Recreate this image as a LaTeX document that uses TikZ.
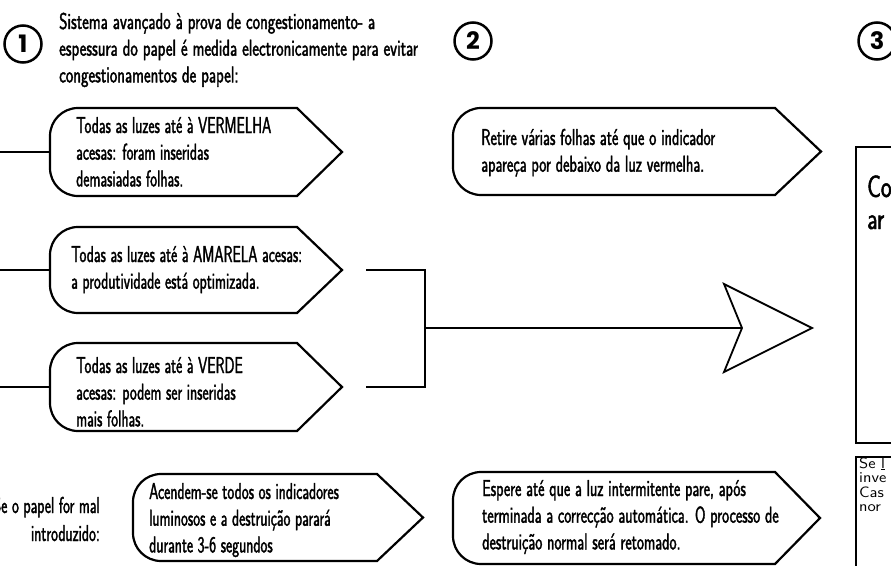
\documentclass[tikz,border=0pt]{standalone}
\usepackage{fontspec}
\usepackage{graphicx}
\usetikzlibrary{calc}
\newfontfamily\futc{Latin Modern Sans}[FakeStretch=0.64,FakeBold=1.5]
\newfontfamily\numf{Poppins}
\newcommand\blk[1]{\parbox[t]{420pt}{\raggedright #1}}
\newcommand\blkr[1]{\parbox[t]{200pt}{\raggedleft #1}}
\newcommand\wide[2]{\scalebox{#1}[1]{#2}}
\tikzset{
  boxline/.style={line width=2.2pt, line join=miter},
  conn/.style={line width=2pt},
  arrowline/.style={line width=1.8pt, line join=miter, fill=white},
  txt/.style={anchor=base west, inner sep=0pt, font=\futc\fontsize{23}{26.7}\selectfont},
  txtr/.style={anchor=base east, inner sep=0pt, font=\futc\fontsize{23}{28}\selectfont},
  bigtxt/.style={anchor=base west, inner sep=0pt, font=\futc\fontsize{31}{32}\selectfont},
  smalltxt/.style={anchor=base west, inner sep=0pt, font=\sffamily\fontsize{15}{14.5}\selectfont},
  numcirc/.style={circle, draw, line width=2.5pt, minimum size=37pt, inner sep=0pt,
    font=\numf\bfseries\fontsize{24}{24}\selectfont},
}
% name, x left, y top, y bottom, x corner, x tip  (y measured downward)
\newcommand\tagbox[6]{%
  \draw[boxline] (#5,-#3) -- (#6,{-(#3+#4)/2}) -- (#5,-#4) -- ({#2+28},-#4)
    arc[start angle=270,end angle=180,radius=28] -- (#2,{-#3-28})
    arc[start angle=180,end angle=90,radius=28] -- cycle;
  \coordinate (#1-w) at (#2,{-(#3+#4)/2});
  \coordinate (#1-e) at (#6,{-(#3+#4)/2});
}
\begin{document}
\begin{tikzpicture}[x=1pt,y=1pt]
\fill[white] (0,0) rectangle (891,-565);
\useasboundingbox (0,0) rectangle (891,-565);

% step circles
\node[numcirc] (c1) at (23,-44) {1};
\node[numcirc] (c2) at (473,-41) {2};
\node[numcirc] (c3) at (877,-41) {3};

% header
\node[txt] (hdr) at (59,-29) {\wide{1.08}{\blk{Sistema avançado à prova de congestionamento- a\\espessura do papel é medida electronicamente para evitar\\congestionamentos de papel:}}};

% column 1 boxes
\tagbox{verm}{50}{108}{196}{297}{342}
\node[txt] (tverm) at (76,-133) {\blk{Todas as luzes até à VERMELHA\\acesas: foram inseridas\\demasiadas folhas.}};
\tagbox{amar}{50}{227}{313}{297}{342}
\node[txt] (tamar) at (71,-262) {\blk{Todas as luzes até à AMARELA acesas:\\a produtividade está optimizada.}};
\tagbox{verde}{50}{343}{431}{297}{342}
\node[txt] (tverde) at (76,-373) {\blk{Todas as luzes até à VERDE\\acesas: podem ser inseridas\\mais folhas.}};

\coordinate (L1) at (0,-152);
\coordinate (L2) at (0,-270);
\coordinate (L3) at (0,-387);
\draw[conn] (L1) -- (verm-w);
\draw[conn] (L2) -- (amar-w);
\draw[conn] (L3) -- (verde-w);

% bracket and big arrow
\coordinate (bA) at ($(amar-e)+(24,0)$);
\coordinate (bG) at ($(verde-e)+(24,0)$);
\coordinate (bj) at (425,-328);
\coordinate (notch) at (742,-328);
\draw[conn] (bA) -- (bA -| bj) -- (bG -| bj) -- (bG);
\draw[conn] (bj) -- (notch);
\draw[arrowline] (notch) -- ++(-18,44) -- ++(88,-44) -- ++(-88,-44) -- cycle;

% column 2
\tagbox{ret}{453}{108}{195}{775}{821}
\node[txt] (tret) at (481,-145) {\wide{1.04}{\blk{Retire várias folhas até que o indicador\\apareça por debaixo da luz vermelha.}}};

% bottom row
\node[txtr] (tmal) at (100,-513) {\blkr{Se o papel for mal\\introduzido:}};
\tagbox{acen}{133}{474}{561}{377}{423}
\node[txt] (tacen) at (149,-499) {\blk{Acendem-se todos os indicadores\\luminosos e a destruição parará\\durante 3-6 segundos}};
\tagbox{esp}{453}{472}{564}{775}{820}
\node[txt] (tesp) at (482,-496) {\wide{1.03}{\blk{Espere até que a luz intermitente pare, após\\terminada a correcção automática. O processo de\\destruição normal será retomado.}}};

% column 3 boxes
\draw[boxline] (856,-147) rectangle (905,-443);
\node[bigtxt] (tco) at (867,-197) {\wide{1.15}{\blk{Co\\ar}}};
\draw[boxline] (856,-457) rectangle (905,-580);
\node[smalltxt] (tse) at (859,-468) {\wide{1.12}{\blk{Se \underline{l}\\inve\\Cas\\nor}}};
\end{tikzpicture}
\end{document}
